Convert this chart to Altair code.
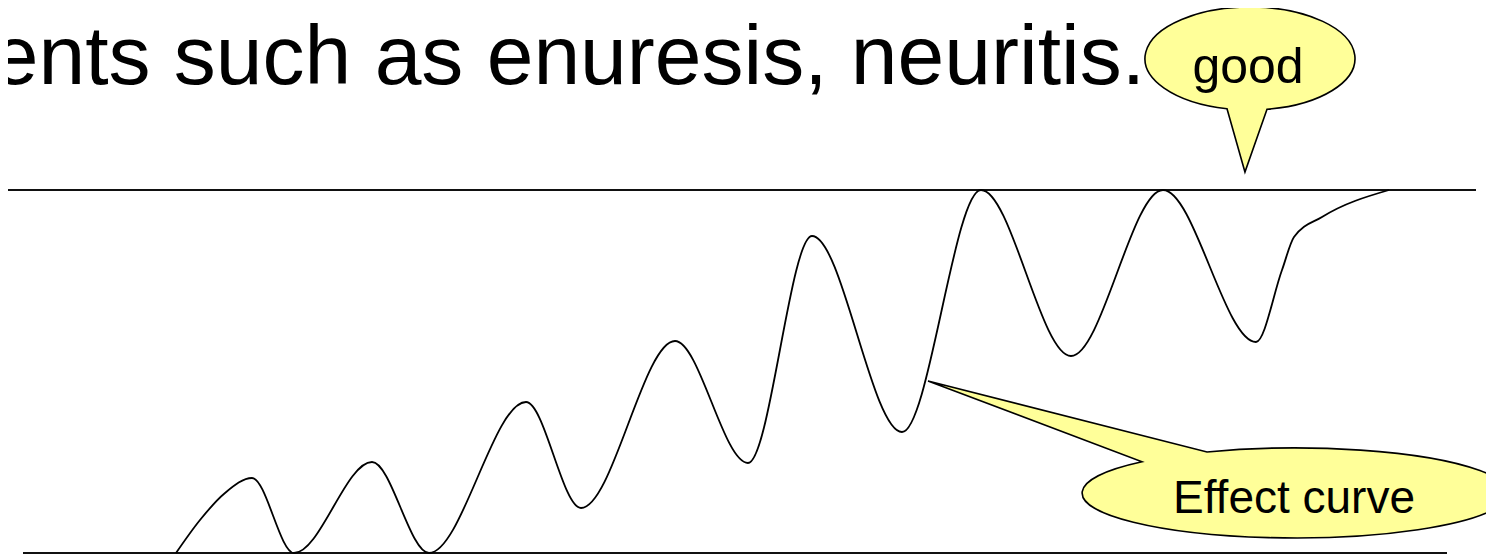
import altair as alt
import pandas as pd

# ---- effect curve (time vs. effect level) ----
curve_time = [176, 200, 225, 252, 294, 372, 429, 526, 581, 675, 748, 812, 902,
              981, 1071, 1163, 1256, 1282, 1294, 1322, 1389]
curve_effect = [0, 33, 60, 75, 0, 91, 0, 151, 45, 212, 90, 317, 121,
                363, 197, 363, 211, 283, 316, 336, 363]

# ---- horizontal reference lines ----
line_name = ["good level", "baseline"]
line_start = [8, 23]
line_end = [1476, 1447]
line_level = [363, 0]

# ---- texts ----
heading = ["ents such as enuresis, neuritis."]
heading_time = [1145]
heading_level = [469]

good_label = ["good"]
good_time = [1250]
good_level = [494.5]
good_text_time = [1248]
good_text_level = [470]

effect_label = ["Effect curve"]
effect_time = [1295]
effect_level = [60]
effect_text_time = [1294]
effect_text_level = [40]

W, H = 1478, 547
xs = alt.Scale(domain=[8, 8 + W], nice=False, zero=False)
ys = alt.Scale(domain=[-2, -2 + H], nice=False, zero=False)

def X(f):
    return alt.X(f, type="quantitative", scale=xs, axis=None)

def Y(f):
    return alt.Y(f, type="quantitative", scale=ys, axis=None)

curve_df = pd.DataFrame({"t": curve_time, "e": curve_effect})
lines_df = pd.DataFrame({"name": line_name, "t": line_start, "t2": line_end, "e": line_level})
head_df = pd.DataFrame({"txt": heading, "t": heading_time, "e": heading_level})
good_df = pd.DataFrame({"txt": good_label, "t": good_time, "e": good_level,
                        "tt": good_text_time, "te": good_text_level})
eff_df = pd.DataFrame({"txt": effect_label, "t": effect_time, "e": effect_level,
                       "tt": effect_text_time, "te": effect_text_level})

FILL = "#FFFF99"
good_shape = "M 0.162 0.484 A 1 0.4905 0 1 0 -0.219 0.4786 L -0.048 1.081 Z"
effect_shape = "M -0.4131 -0.1925 A 1 0.2113 0 1 1 -0.7183 -0.147 L -1.723 -0.5258 Z"

rules = alt.Chart(lines_df).mark_rule(color="#111111", strokeWidth=2.2).encode(
    x=X("t"), x2="t2", y=Y("e"))

curve = alt.Chart(curve_df).mark_line(
    interpolate="monotone", color="black", strokeWidth=1.8).encode(
    x=X("t"), y=Y("e"), order="t:Q")

heading_layer = alt.Chart(head_df).mark_text(
    align="right", baseline="alphabetic", font="Liberation Sans", fontSize=84,
    color="black").encode(x=X("t"), y=Y("e"), text="txt")

good_bubble = alt.Chart(good_df).mark_point(
    shape=good_shape, filled=True, fill=FILL, stroke="black", strokeWidth=1.6,
    opacity=1, size=44100).encode(x=X("t"), y=Y("e"))

good_text = alt.Chart(good_df).mark_text(
    align="center", baseline="alphabetic", font="Liberation Sans",
    fontSize=50, color="black").encode(x=X("tt"), y=Y("te"), text="txt")

eff_bubble = alt.Chart(eff_df).mark_point(
    shape=effect_shape, filled=True, fill=FILL, stroke="black", strokeWidth=1.6,
    opacity=1, size=181476).encode(x=X("t"), y=Y("e"))

eff_text = alt.Chart(eff_df).mark_text(
    align="center", baseline="alphabetic", font="Liberation Sans", fontSize=46,
    color="black").encode(x=X("tt"), y=Y("te"), text="txt")

chart = alt.layer(
    rules, curve, heading_layer, good_bubble, good_text, eff_bubble, eff_text
).properties(
    width=W, height=H, padding=0,
    autosize=alt.AutoSizeParams(type="none"),
    background="white",
).configure_view(stroke=None)

chart.save("out.html", embed_options={"renderer": "svg", "actions": False})
